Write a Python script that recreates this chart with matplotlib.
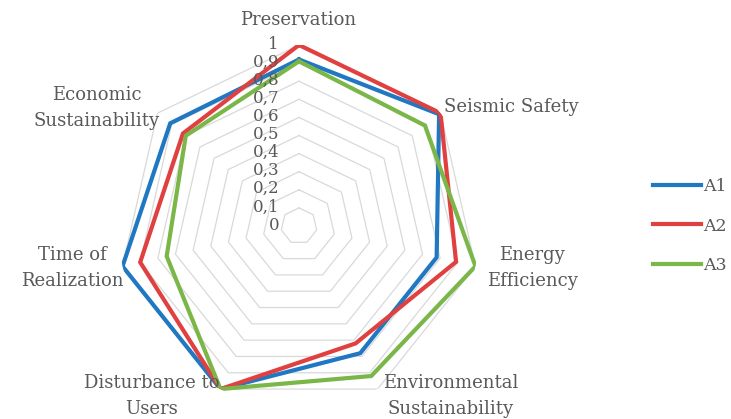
import numpy as np
import matplotlib
matplotlib.use("Agg")
import matplotlib.pyplot as plt
import matplotlib.transforms as mtransforms

categories = ["Preservation", "Seismic Safety", "Energy\nEfficiency",
              "Environmental\nSustainability", "Disturbance to\nUsers",
              "Time of\nRealization", "Economic\nSustainability"]
series_names = ["A1", "A2", "A3"]
a1 = [0.92, 0.99, 0.78, 0.78, 1.00, 1.00, 0.91]
a2 = [1.00, 1.00, 0.89, 0.72, 1.00, 0.90, 0.82]
a3 = [0.91, 0.89, 1.00, 0.92, 1.00, 0.75, 0.80]
ring_values = [0.1, 0.2, 0.3, 0.4, 0.5, 0.6, 0.7, 0.8, 0.9, 1.0]
tick_values = [0, 0.1, 0.2, 0.3, 0.4, 0.5, 0.6, 0.7, 0.8, 0.9, 1]
tick_labels = ["0", "0,1", "0,2", "0,3", "0,4", "0,5", "0,6", "0,7", "0,8", "0,9", "1"]
colors = ["#1f78c1", "#e0403f", "#7ab648"]

W, H = 731, 419
fig = plt.figure(figsize=(W / 100, H / 100), dpi=100)
cx, cy, R = 299, 226, 181
ax = fig.add_axes([(cx - R) / W, (H - cy - R) / H, 2 * R / W, 2 * R / H], projection="polar")
ax.set_theta_offset(np.pi / 2)
ax.set_theta_direction(-1)
ax.set_ylim(0, 1)
ax.grid(False)
ax.spines["polar"].set_visible(False)
ax.set_xticks([])
ax.set_yticks([])
ax.patch.set_alpha(0)

n = len(categories)
theta = np.linspace(0, 2 * np.pi, n, endpoint=False)
theta_c = np.append(theta, theta[0])

for rv in ring_values:
    ax.plot(theta_c, [rv] * (n + 1), color="#d9d9d9", lw=0.9, zorder=1)

for vals, name, c in zip([a1, a2, a3], series_names, colors):
    ax.plot(theta_c, list(vals) + [vals[0]], color=c, lw=3.0, label=name, zorder=3,
            solid_joinstyle="miter")

font = "DejaVu Serif"
txt_color = "#595959"
shift = ax.transData + mtransforms.ScaledTranslation(-20 / 100, 1 / 100, fig.dpi_scale_trans)
for tv, tl in zip(tick_values, tick_labels):
    ax.text(0, tv, tl, transform=shift, ha="right", va="center", fontsize=12,
            family=font, color=txt_color, zorder=4)

label_pos = [(298, 20), (511, 107), (532, 268), (451, 396), (152, 396), (72, 268), (97, 108)]
for lab, (x, y) in zip(categories, label_pos):
    fig.text(x / W, 1 - y / H, lab, ha="center", va="center", fontsize=13, family=font,
             color=txt_color, linespacing=1.6)

leg = fig.legend(loc="center left", bbox_to_anchor=(637 / W, 1 - 226 / H), frameon=False,
                 handlelength=2.8, handletextpad=0.1, labelspacing=1.3,
                 prop={"family": font, "size": 12.5})
for t in leg.get_texts():
    t.set_color(txt_color)

fig.savefig("out.png", dpi=100)
